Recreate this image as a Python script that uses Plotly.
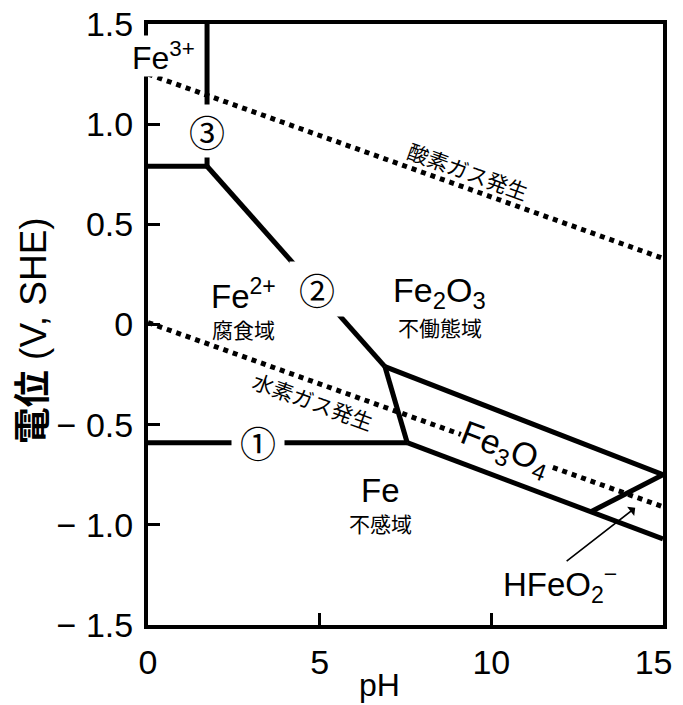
import plotly.graph_objects as go

# ---- data (pH, potential V vs SHE) ----
ph_fe3_fe2 = [0, 1.72]
v_fe3_fe2 = [0.79, 0.79]
ph_line3 = [1.72, 1.72]
v_line3 = [1.5, 0.79]
ph_line2 = [1.72, 6.9]
v_line2 = [0.79, -0.21]
ph_line1 = [0, 7.55]
v_line1 = [-0.59, -0.59]
ph_fe2_fe3o4 = [6.9, 7.55]
v_fe2_fe3o4 = [-0.21, -0.59]
ph_fe3o4_fe2o3 = [6.9, 15]
v_fe3o4_fe2o3 = [-0.21, -0.75]
ph_fe_fe3o4 = [7.55, 15]
v_fe_fe3o4 = [-0.59, -1.07]
ph_hfeo2 = [12.9, 15]
v_hfeo2 = [-0.935, -0.75]
ph_oxygen = [0, 15]
v_oxygen = [1.25, 0.33]
ph_hydrogen = [0, 15]
v_hydrogen = [0.01, -0.91]

x_tickvals = [0, 5, 10, 15]
x_ticktext = ["0", "5", "10", "15\u2007"]
y_tickvals = [1.5, 1.0, 0.5, 0, -0.5, -1.0, -1.5]
y_ticktext = ["1.5", "1.0", "0.5", "0", "\u2212 0.5", "\u2212 1.0", "\u2212 1.5"]

FONT = "Liberation Sans, Arial, Noto Sans CJK JP, sans-serif"
CJK = "Noto Sans CJK JP, sans-serif"

fig = go.Figure()

solid = [
    (ph_fe3_fe2, v_fe3_fe2), (ph_line3, v_line3), (ph_line2, v_line2),
    (ph_line1, v_line1), (ph_fe2_fe3o4, v_fe2_fe3o4),
    (ph_fe3o4_fe2o3, v_fe3o4_fe2o3), (ph_fe_fe3o4, v_fe_fe3o4),
    (ph_hfeo2, v_hfeo2),
]
for xs, ys in solid:
    fig.add_trace(go.Scatter(x=xs, y=ys, mode="lines",
                             line=dict(color="black", width=5),
                             hoverinfo="skip", showlegend=False))
for xs, ys in [(ph_oxygen, v_oxygen), (ph_hydrogen, v_hydrogen)]:
    fig.add_trace(go.Scatter(x=xs, y=ys, mode="lines",
                             line=dict(color="black", width=5, dash="5px,5px"),
                             hoverinfo="skip", showlegend=False))

ann = []
def lab(x, y, text, size, family=FONT, angle=0, bg=None, pad=1):
    d = dict(x=x, y=y, xref="x", yref="y", text=text, showarrow=False,
             font=dict(size=size, family=family, color="black"),
             textangle=angle, xanchor="center", yanchor="middle", borderpad=pad)
    if bg:
        d["bgcolor"] = bg
    ann.append(d)

lab(0.45, 1.34, "Fe<sup>3+</sup>", 32, bg="white", pad=0)
lab(1.72, 0.965, "③", 36, family=CJK, bg="white", pad=0)
lab(4.92, 0.176, "\u00a0②\u00a0", 36, family=CJK, bg="white", pad=1)
lab(3.2, -0.585, "\u00a0①\u00a0", 36, family=CJK, bg="white", pad=0)
lab(2.77, 0.151, "Fe<sup>2+</sup>", 33)
lab(2.77, -0.022, "腐食域", 21, family=CJK)
lab(8.5, 0.161, "Fe<sub>2</sub>O<sub>3</sub>", 34)
lab(8.5, -0.012, "不働態域", 21, family=CJK)
lab(6.76, -0.83, "Fe", 33)
lab(6.76, -0.99, "不感域", 21, family=CJK)
lab(10.4, -0.622, "Fe<sub>3</sub>O<sub>4</sub>", 34, angle=21, bg="white", pad=0)
lab(9.32, 0.766, "酸素ガス発生", 21, family=CJK, angle=20)
lab(4.8, -0.384, "水素ガス発生", 21, family=CJK, angle=20)
lab(12.0, -1.30, "HFeO<sub>2</sub><sup>\u2212</sup>", 33)

ann.append(dict(x=14.19, y=-0.915, ax=12.15, ay=-1.187, xref="x", yref="y",
                axref="x", ayref="y", text="", showarrow=True,
                arrowhead=1, arrowsize=1.2, arrowwidth=1.6, arrowcolor="black"))

ann.append(dict(x=-0.222, y=0.49, xref="paper", yref="paper",
                text="<b>電位</b> (V, SHE)", showarrow=False, textangle=-90,
                font=dict(size=37, family=FONT, color="black"),
                xanchor="center", yanchor="middle"))
ann.append(dict(x=0.45, y=-0.0995, xref="paper", yref="paper",
                text="pH", showarrow=False,
                font=dict(size=32, family=FONT, color="black"),
                xanchor="center", yanchor="middle"))

axis_common = dict(ticks="inside", ticklen=12, tickwidth=3, tickcolor="black",
                   showline=True, linewidth=4, linecolor="black", mirror=True,
                   showgrid=False, zeroline=False, ticklabelstandoff=4,
                   automargin=False, ticklabeloverflow="allow",
                   tickfont=dict(size=34, family=FONT, color="black"))

fig.update_layout(
    width=683, height=705,
    margin=dict(l=140, r=28, t=16, b=88),
    paper_bgcolor="white", plot_bgcolor="white",
    annotations=ann,
    xaxis=dict(range=[0, 15], tickvals=x_tickvals, ticktext=x_ticktext, **axis_common),
    yaxis=dict(range=[-1.5, 1.5], tickvals=y_tickvals, ticktext=y_ticktext, **axis_common),
)

fig.write_html("out.html")
